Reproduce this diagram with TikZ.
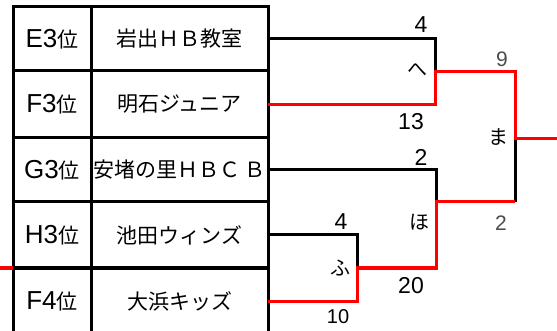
\documentclass[tikz,border=0pt]{standalone}
\usepackage{fontspec}
\setmainfont{Noto Sans CJK JP}
\newfontfamily\numfont{Liberation Sans}
\definecolor{winred}{RGB}{255,0,0}
\newcommand\ranktext[1]{{\numfont\fontsize{26}{26}\selectfont #1}位}

\begin{document}
\begin{tikzpicture}[x=1pt,y=-1pt,
	cell/.style={draw,line width=3pt,inner sep=0pt,outer sep=0pt,font=\fontsize{21}{21}\selectfont},
	rank/.style={cell,minimum width=78pt},
	team/.style={cell,minimum width=177pt},
	loseline/.style={line width=3pt},
	winline/.style={line width=3pt,draw=winred},
	score/.style={inner sep=0pt,font=\numfont\fontsize{23}{23}\selectfont},
	kana/.style={inner sep=0pt,font=\fontsize{20}{20}\selectfont}]
	\useasboundingbox (0,0) rectangle (557,331);
	%table
		\node[rank,minimum height=64pt] (r1) at (52,39) {\ranktext{E3}};
		\node[team,minimum height=64pt] (t1) at (179.5,39) {岩出ＨＢ教室};
		\node[rank,minimum height=67pt] (r2) at (52,104.5) {\ranktext{F3}};
		\node[team,minimum height=67pt] (t2) at (179.5,104.5) {明石ジュニア};
		\node[rank,minimum height=64pt] (r3) at (52,170) {\ranktext{G3}};
		\node[team,minimum height=64pt] (t3) at (179.5,170) {安堵の里ＨＢＣ Ｂ};
		\node[rank,minimum height=66pt] (r4) at (52,235) {\ranktext{H3}};
		\node[team,minimum height=66pt] (t4) at (179.5,235) {池田ウィンズ};
		\node[rank,minimum height=66pt] (r5) at (52,301) {\ranktext{F4}};
		\node[team,minimum height=66pt] (t5) at (179.5,301) {大浜キッズ};
	%match points
		\coordinate (he) at (435,72);
		\coordinate (ho) at (436,202);
		\coordinate (fu) at (357,268);
		\coordinate (ma) at (515,139);
		\coordinate (champ) at (557,139);
		\coordinate (lead) at (0,268);
	%losing lines
		\draw[loseline] (t1.east) -| (he);
		\draw[loseline] (t3.east) -| (ho);
		\draw[loseline] (t4.east) -| (fu);
		\draw[loseline] (ho -| ma) -- (ma);
	%winning lines
		\draw[winline] (t2.east) -| (he) -| (ma) -- (champ);
		\draw[winline] (t5.east) -| (fu) -| (ho) -- (ho -| ma);
		\draw[winline] (lead) -- (r5.north west);
	%scores + match names
		\node[score] (s1) at (421,25) {4};
		\node[kana] (khe) at (417,70) {へ};
		\node[score] (s2) at (411,122) {13};
		\node[score] (s3) at (421,157) {2};
		\node[score,font=\numfont\fontsize{21}{21}\selectfont,text=black!70] (s9) at (502,59) {9};
		\node[kana] (kma) at (498,137) {ま};
		\node[kana] (kho) at (419,222) {ほ};
		\node[score,font=\numfont\fontsize{21}{21}\selectfont,text=black!70] (s8) at (501,223) {2};
		\node[score] (s4) at (341,222) {4};
		\node[kana] (kfu) at (340,268) {ふ};
		\node[score] (s5) at (411,286) {20};
		\node[score,font=\numfont\fontsize{20}{20}\selectfont] (s6) at (338,317) {10};
\end{tikzpicture}
\end{document}
